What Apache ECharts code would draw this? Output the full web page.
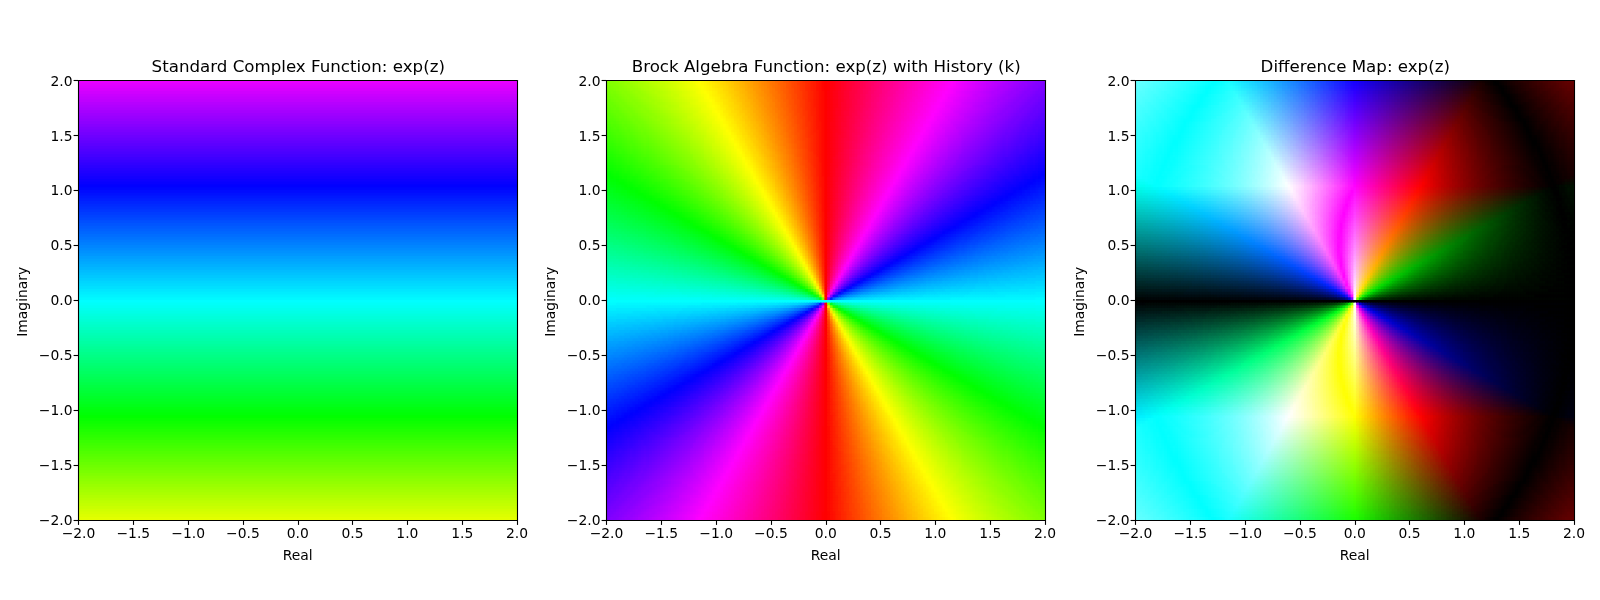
<!DOCTYPE html>
<html><head><meta charset="utf-8">
<style>html,body{margin:0;padding:0;background:#fff}#c{width:1600px;height:600px}</style>
<script src="https://cdn.jsdelivr.net/npm/echarts@6/dist/echarts.min.js"></script>
</head><body><div id="c"></div>
<script>
// Titles and axis text as printed in the picture.
const panelTitles = ['Standard Complex Function: exp(z)', 'Brock Algebra Function: exp(z) with History (k)', 'Difference Map: exp(z)'];
const xAxisName = 'Real';
const yAxisName = 'Imaginary';
const axisMin = -2, axisMax = 2, axisStep = 0.5;

// Row step of hueByRow, in axis units (the first row sits at axisMin).
const rowStep = 0.025;
// Hue in degrees of each row of the left panel, bottom (-2.0) to top (+2.0).
const hueByRow = [
65.4,66.8,68.3,69.7,71.1,72.6,74.0,75.4,76.9,78.3,79.7,81.2,82.6,84.0,85.5,86.9,88.3,89.8,91.2,92.6,
94.1,95.5,96.9,98.3,99.8,101.2,102.6,104.1,105.5,106.9,108.4,109.8,111.2,112.7,114.1,115.5,117.0,118.4,119.8,121.3,
122.7,124.1,125.6,127.0,128.4,129.9,131.3,132.7,134.2,135.6,137.0,138.5,139.9,141.3,142.8,144.2,145.6,147.0,148.5,149.9,
151.3,152.8,154.2,155.6,157.1,158.5,159.9,161.4,162.8,164.2,165.7,167.1,168.5,170.0,171.4,172.8,174.3,175.7,177.1,178.6,
180.0,181.4,182.9,184.3,185.7,187.2,188.6,190.0,191.5,192.9,194.3,195.8,197.2,198.6,200.1,201.5,202.9,204.4,205.8,207.2,
208.7,210.1,211.5,213.0,214.4,215.8,217.2,218.7,220.1,221.5,223.0,224.4,225.8,227.3,228.7,230.1,231.6,233.0,234.4,235.9,
237.3,238.7,240.2,241.6,243.0,244.5,245.9,247.3,248.8,250.2,251.6,253.1,254.5,255.9,257.4,258.8,260.2,261.7,263.1,264.5,
265.9,267.4,268.8,270.2,271.7,273.1,274.5,276.0,277.4,278.8,280.3,281.7,283.1,284.6,286.0,287.4,288.9,290.3,291.7,293.2,
294.6];
// Direction step of hueByAngle, in degrees (the first entry sits at -180).
const angleStep = 0.5;
// Hue in degrees of the middle panel around the origin, from direction -180 up to +179.5.
const hueByAngle = [
180,181,182,183,184,185,186,187,188,189,190,191,192,193,194,195,196,197,198,199,200,201,202,203,204,205,206,207,208,209,
210,211,212,213,214,215,216,217,218,219,220,221,222,223,224,225,226,227,228,229,230,231,232,233,234,235,236,237,238,239,
240,241,242,243,244,245,246,247,248,249,250,251,252,253,254,255,256,257,258,259,260,261,262,263,264,265,266,267,268,269,
270,271,272,273,274,275,276,277,278,279,280,281,282,283,284,285,286,287,288,289,290,291,292,293,294,295,296,297,298,299,
300,301,302,303,304,305,306,307,308,309,310,311,312,313,314,315,316,317,318,319,320,321,322,323,324,325,326,327,328,329,
330,331,332,333,334,335,336,337,338,339,340,341,342,343,344,345,346,347,348,349,350,351,352,353,354,355,356,357,358,359,
0,1,2,3,4,5,6,7,8,9,10,11,12,13,14,15,16,17,18,19,20,21,22,23,24,25,26,27,28,29,
30,31,32,33,34,35,36,37,38,39,40,41,42,43,44,45,46,47,48,49,50,51,52,53,54,55,56,57,58,59,
60,61,62,63,64,65,66,67,68,69,70,71,72,73,74,75,76,77,78,79,80,81,82,83,84,85,86,87,88,89,
90,91,92,93,94,95,96,97,98,99,100,101,102,103,104,105,106,107,108,109,110,111,112,113,114,115,116,117,118,119,
120,121,122,123,124,125,126,127,128,129,130,131,132,133,134,135,136,137,138,139,140,141,142,143,144,145,146,147,148,149,
150,151,152,153,154,155,156,157,158,159,160,161,162,163,164,165,166,167,168,169,170,171,172,173,174,175,176,177,178,179,
180,181,182,183,184,185,186,187,188,189,190,191,192,193,194,195,196,197,198,199,200,201,202,203,204,205,206,207,208,209,
210,211,212,213,214,215,216,217,218,219,220,221,222,223,224,225,226,227,228,229,230,231,232,233,234,235,236,237,238,239,
240,241,242,243,244,245,246,247,248,249,250,251,252,253,254,255,256,257,258,259,260,261,262,263,264,265,266,267,268,269,
270,271,272,273,274,275,276,277,278,279,280,281,282,283,284,285,286,287,288,289,290,291,292,293,294,295,296,297,298,299,
300,301,302,303,304,305,306,307,308,309,310,311,312,313,314,315,316,317,318,319,320,321,322,323,324,325,326,327,328,329,
330,331,332,333,334,335,336,337,338,339,340,341,342,343,344,345,346,347,348,349,350,351,352,353,354,355,356,357,358,359,
0,1,2,3,4,5,6,7,8,9,10,11,12,13,14,15,16,17,18,19,20,21,22,23,24,25,26,27,28,29,
30,31,32,33,34,35,36,37,38,39,40,41,42,43,44,45,46,47,48,49,50,51,52,53,54,55,56,57,58,59,
60,61,62,63,64,65,66,67,68,69,70,71,72,73,74,75,76,77,78,79,80,81,82,83,84,85,86,87,88,89,
90,91,92,93,94,95,96,97,98,99,100,101,102,103,104,105,106,107,108,109,110,111,112,113,114,115,116,117,118,119,
120,121,122,123,124,125,126,127,128,129,130,131,132,133,134,135,136,137,138,139,140,141,142,143,144,145,146,147,148,149,
150,151,152,153,154,155,156,157,158,159,160,161,162,163,164,165,166,167,168,169,170,171,172,173,174,175,176,177,178,179];

const panelLeft = [78.5, 606.5, 1135.5];
const panelWidth = 438.5, panelTop = 80.5, panelHeight = 439.5;

function hsv(h) {
  const k = n => { const t = (n + h / 60) % 6; return 1 - Math.max(0, Math.min(t, 4 - t, 1)); };
  return [k(5), k(3), k(1)];
}
const css = c => `rgb(${c.map(v => Math.round(v * 255)).join(',')})`;
const rowY = i => axisMin + i * rowStep;
const angleIndex = (x, y) => {
  const n = hueByAngle.length;
  const d = Math.round((Math.atan2(y, x) * 180 / Math.PI + 180) / angleStep);
  return (d % n + n) % n;
};

// Cells of the middle and right panels: each looks up its hue in the two tables above.
const gridCells = [];
hueByRow.forEach((_, r) => hueByRow.forEach((_, c) => gridCells.push([rowY(c), rowY(r), r, angleIndex(rowY(c), rowY(r))])));

function rowItem(params, api) {
  const i = params.dataIndex, a = api.coord([axisMin, rowY(i) - rowStep / 2]), b = api.coord([axisMax, rowY(i) + rowStep / 2]);
  return { type: 'rect', shape: { x: a[0], y: b[1], width: b[0] - a[0], height: a[1] - b[1] + 1 },
    style: { fill: css(hsv(hueByRow[i])) } };
}
function cellItem(api, colour) {
  const x = api.value(0), y = api.value(1);
  const a = api.coord([x - rowStep / 2, y - rowStep / 2]), b = api.coord([x + rowStep / 2, y + rowStep / 2]);
  return { type: 'rect', shape: { x: a[0], y: b[1], width: b[0] - a[0] + 1, height: a[1] - b[1] + 1 }, style: { fill: css(colour) } };
}
function angleItem(params, api) {
  return cellItem(api, hsv(hueByAngle[api.value(3)]));
}
// Right panel: channel-wise absolute difference of the two tables.
function diffItem(params, api) {
  const p = hsv(hueByRow[api.value(2)]), q = hsv(hueByAngle[api.value(3)]);
  return cellItem(api, p.map((v, n) => Math.abs(v - q[n])));
}

const textColor = '#000', tickFont = 13.89, fontFamily = 'DejaVu Sans';
const tickLabel = v => (v < 0 ? '\u2212' : '') + Math.abs(v).toFixed(1);
const line = { show: true, onZero: false, lineStyle: { color: '#000', width: 1.1 } };
function mainAxis(i, name, pos, gap, margin, labelFormatter, rich, namePadding) {
  return { type: 'value', gridIndex: i, min: axisMin, max: axisMax, interval: axisStep, position: pos, z: 5,
    name, nameLocation: 'middle', nameGap: gap, nameTextStyle: { color: textColor, fontSize: tickFont, fontFamily, padding: namePadding },
    axisLine: line, splitLine: { show: false },
    axisTick: { show: true, length: 4.9, lineStyle: { color: '#000', width: 1.1 } },
    axisLabel: { show: true, margin, color: textColor, fontSize: tickFont, fontFamily, formatter: labelFormatter, rich, showMinLabel: true, showMaxLabel: true } };
}
function frameAxis(i, pos) {
  return { type: 'value', gridIndex: i, min: axisMin, max: axisMax, interval: axisStep, position: pos, z: 5,
    axisLine: line, axisTick: { show: false }, axisLabel: { show: false }, splitLine: { show: false } };
}
const yLabelRich = { t: { color: textColor, fontSize: tickFont, fontFamily, padding: [3, 0, 0, 0] } };
const yLabel = v => `{t|${tickLabel(v)}}`;
const ids = [0, 1, 2];
const option = {
  animation: false,
  backgroundColor: '#fff',
  title: ids.map(i => ({ text: panelTitles[i], left: panelLeft[i] + panelWidth / 2 - 4.5, top: 54, textAlign: 'center',
    textStyle: { color: textColor, fontSize: 16.67, fontWeight: 'normal', fontFamily } })),
  grid: ids.map(i => ({ left: panelLeft[i], top: panelTop, width: panelWidth, height: panelHeight, containLabel: false })),
  xAxis: ids.map(i => mainAxis(i, xAxisName, 'bottom', 29, 7, tickLabel, undefined, 0)).concat(ids.map(i => frameAxis(i, 'top'))),
  yAxis: ids.map(i => mainAxis(i, yAxisName, 'left', 48, 6, yLabel, yLabelRich, [0, 3, 0, 0])).concat(ids.map(i => frameAxis(i, 'right'))),
  series: [
    { type: 'custom', xAxisIndex: 0, yAxisIndex: 0, clip: true, z: 1, silent: true, progressive: 0, renderItem: rowItem,
      data: hueByRow.map((h, i) => [rowY(i), h]) },
    { type: 'custom', xAxisIndex: 1, yAxisIndex: 1, clip: true, z: 1, silent: true, progressive: 0, renderItem: angleItem,
      data: gridCells },
    { type: 'custom', xAxisIndex: 2, yAxisIndex: 2, clip: true, z: 1, silent: true, progressive: 0, renderItem: diffItem,
      data: gridCells }
  ]
};
echarts.init(document.getElementById('c')).setOption(option);
</script></body></html>
